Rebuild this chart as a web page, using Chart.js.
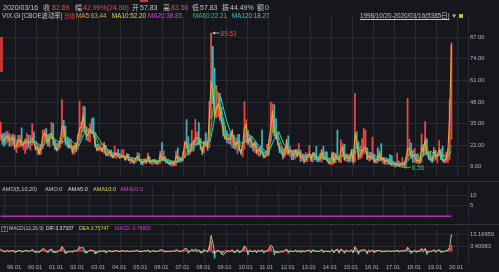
<!DOCTYPE html>
<html lang="zh">
<head>
<meta charset="UTF-8">
<title>VIX.GI CBOE波动率 日线</title>
<script src="https://cdn.jsdelivr.net/npm/chart.js"></script>
<style>
  html, body { margin: 0; padding: 0; background: #16171c; }
  body {
    width: 499px; height: 272px; position: relative; overflow: hidden;
    font-family: "Liberation Sans", "Noto Sans CJK SC", sans-serif; color: #c4c4c4;
  }
  canvas { position: absolute; left: 0; }
  .t { position: absolute; white-space: nowrap; }
  .r1 { top: 3px; font-size: 7px; line-height: 9px; }
  .r2 { top: 12px; font-size: 6.3px; line-height: 8px; }
  .lb { top: 185px; font-size: 5.6px; line-height: 8px; }
  .lm { top: 224px; font-size: 5px; line-height: 8px; }
  .red { color: #f04848; }
  .sep { position: absolute; left: 0; width: 499px; height: 1px; background: #34363d; }
</style>
</head>
<body>
  <canvas id="mainChart" width="499" height="171" style="top:10px"></canvas>
  <canvas id="amoChart" width="499" height="43" style="top:181px"></canvas>
  <canvas id="macdChart" width="499" height="48" style="top:224px"></canvas>

  <div class="sep" style="top:181px"></div>
  <div class="sep" style="top:224px"></div>
  <div style="position:absolute;left:140px;top:0;width:8px;height:2px;background:#c83a3a"></div>
  <div style="position:absolute;left:0;top:37px;width:3px;height:35px;background:#c03838"></div>

  <!-- header row 1 -->
  <span class="t r1" style="left:3px">2020/03/16</span>
  <span class="t r1" style="left:43px">收</span>
  <span class="t r1 red" style="left:52px">82.69</span>
  <span class="t r1" style="left:75px">幅</span>
  <span class="t r1 red" style="left:83px">42.99%(24.86)</span>
  <span class="t r1" style="left:132px">开</span>
  <span class="t r1" style="left:140px">57.83</span>
  <span class="t r1" style="left:163px">高</span>
  <span class="t r1 red" style="left:171px">83.56</span>
  <span class="t r1" style="left:192px">低</span>
  <span class="t r1" style="left:200px">57.83</span>
  <span class="t r1" style="left:222px">振</span>
  <span class="t r1" style="left:230px">44.49%</span>
  <span class="t r1" style="left:257px">额</span>
  <span class="t r1" style="left:265px">0</span>

  <!-- header row 2 -->
  <span class="t r2" style="left:2px">VIX.GI</span>
  <span class="t r2" style="left:22px">[CBOE波动率]</span>
  <span class="t r2 red" style="left:64px;font-size:5.4px">日线</span>
  <span class="t r2" style="left:76px;color:#eca040">MA5:63.44</span>
  <span class="t r2" style="left:112px;color:#e2dc48">MA10:52.20</span>
  <span class="t r2" style="left:148px;color:#d83cd8">MA20:38.85</span>
  <span class="t r2" style="left:193px;color:#3cc24a">MA60:22.21</span>
  <span class="t r2" style="left:232px;color:#3cc8d2">MA120:18.27</span>
  <span class="t r2" style="left:360px;text-decoration:underline">1998/10/20-2020/03/16(5385日)</span>
  <span class="t r2" style="left:451px;color:#bbbbbb">▼</span>
  <span style="position:absolute;left:459px;top:14px;width:4px;height:4px;background:#e0b020"></span>

  <!-- AMO label -->
  <span class="t lb" style="left:2px">AMO(5,10,20)</span>
  <span class="t lb" style="left:45px">AMO:0</span>
  <span class="t lb" style="left:68px;color:#dddddd">AMA5:0</span>
  <span class="t lb" style="left:93px;color:#e2dc48">AMA10:0</span>
  <span class="t lb" style="left:120px;color:#d83cd8">AMA20:0</span>

  <!-- MACD label -->
  <span class="t lm" style="left:1px;top:226px;border:1px solid #666;line-height:4px;padding:0 1px">?</span>
  <span class="t lm" style="left:9px">MACD(12,26,9)</span>
  <span class="t lm" style="left:46px;color:#e6e6e6">DIF:3.37337</span>
  <span class="t lm" style="left:79px;color:#e2dc48">DEA:3.75747</span>
  <span class="t lm" style="left:115px;color:#d83cd8">MACD:-0.76820</span>

<script>
// monthly VIX values, 1998/10 .. 2020/03
const high = [
  36, 29, 29,
  30, 30.5, 29, 28, 29, 28, 24, 28, 28, 32.5, 24, 26,
  29, 28, 28, 35, 30, 24.5, 22, 21, 22.5, 31, 31.5, 32,
  28.5, 29, 36, 35, 25, 23, 24, 26, 49.5, 37, 33.5, 26,
  25.5, 25.5, 21.5, 22, 23.5, 28.5, 48.5, 36, 45.5, 45.1, 33, 32,
  35, 38, 38.5, 29.5, 22.5, 22, 23, 20.5, 23.5, 22, 19.5, 18.5,
  19, 17, 21.5, 17.5, 19.5, 17, 19, 19.5, 15.5, 17, 16.5, 14,
  14.5, 12.5, 14.5, 17.5, 17, 13, 12.5, 14, 13.5, 17.2, 15, 12.5,
  13.5, 13.5, 12.5, 12.5, 18.5, 23.8, 18.5, 15, 13.5, 12.5, 11.8, 12.5,
  12.5, 18.5, 20.5, 15, 14, 18, 24.5, 37.5, 27, 23, 31.1, 25,
  37.6, 30, 35.6, 26, 21, 24.5, 29.5, 24.5, 48.4, 89.53, 81.5, 68.5,
  58, 53.5, 53.3, 45, 38, 33.5, 30.5, 28.5, 29, 31, 28, 24.5,
  28.2, 28.5, 19.5, 23, 48.2, 37.5, 31, 28.5, 27.5, 23, 24, 23,
  20.5, 21.5, 31.3, 17.5, 18.5, 22.5, 25.5, 48, 46.9, 46.4, 38, 30,
  23.5, 21, 20, 20.5, 25.5, 27.7, 21.5, 19, 19, 19.5, 19.5, 23.2,
  19, 16.5, 16, 17.5, 16.5, 21.9, 16.5, 17.5, 17.5, 21.3, 14.5, 17,
  19.4, 21.5, 18, 18, 14, 12.5, 17.5, 17.5, 17, 31.1, 14.5, 25.3,
  23, 22.5, 17, 15.5, 15.5, 19.5, 19.5, 53.3, 30, 24, 21.5, 26,
  32.1, 30.9, 20.5, 17, 17.5, 26.7, 16.5, 14, 20.5, 18.5, 23, 14.5,
  14.2, 13, 13.6, 16.3, 15.7, 12.1, 11.5, 17.3, 12.5, 11.5, 14.5, 11.3,
  14.6, 50.3, 25.7, 23.5, 18.9, 20.2, 16.5, 16.9, 14, 28.8, 22.5, 36.2,
  25.9, 17.9, 17.9, 15.5, 20.7, 18.9, 16.9, 24.8, 19.5, 21.5, 13.6, 17.9,
  19.99, 49.5, 83.56
];
const low = [
  25, 22.5, 21.5,
  22.6, 23.5, 21.5, 21.5, 22, 19.5, 17.5, 20.5, 21, 21.5, 19.5, 17,
  19.5, 20.5, 19, 22, 23.5, 19, 16.5, 16.5, 16.5, 20, 24, 24,
  21.5, 21, 26, 22, 19.5, 18.5, 19, 20.5, 23, 27, 22.5, 21,
  20, 20.5, 17.5, 16.5, 17.9, 19.5, 25, 27, 30, 30, 25, 24.5,
  24, 29, 27, 21.5, 18.5, 19, 18.5, 18, 17, 16, 15.5, 15.5,
  15, 14.5, 14.5, 14, 15, 14, 14.5, 14.5, 13, 13.5, 12.5, 11,
  11.5, 10.7, 11.5, 12.5, 12.5, 10.5, 10.2, 11, 11, 12, 11, 10.5,
  10.5, 11, 10.5, 10.5, 11, 12.5, 13, 11.6, 11, 10.5, 9.9, 9.4,
  9.9, 9.8, 11.5, 12, 12, 12.5, 14.5, 20, 16, 16.5, 18, 18.5,
  22, 22, 22.5, 19.5, 16.3, 17.5, 21.5, 18.8, 20.5, 38, 47, 39.5,
  38.5, 39, 37, 35, 27.5, 25.5, 23.5, 23, 22.5, 20.5, 20, 19.5,
  16.9, 18.5, 16.5, 15.2, 19.5, 23.5, 22.5, 21, 20.5, 18.5, 17.5, 16.8,
  15.5, 15.5, 17, 14.3, 14.7, 15.5, 16, 24, 29.5, 27.5, 26, 22.5,
  17.5, 16.8, 13.7, 15, 16.5, 16.5, 15.3, 13.3, 13.3, 13.9, 15, 15.5,
  12.3, 12.5, 11.3, 12, 12.3, 14.5, 12.3, 11.8, 13.3, 12.5, 11.9, 12.3,
  11.8, 13.5, 13.4, 12.5, 11, 10.3, 10.3, 11.2, 11.5, 13.5, 12, 11.5,
  15.5, 13.5, 12.5, 12.1, 11.8, 12.5, 11.8, 11.9, 20, 13.5, 13.8, 14.5,
  17.5, 19.5, 13.5, 12.5, 13, 13.5, 11.6, 11, 11.8, 12.5, 12.5, 11,
  10.6, 10.6, 10.6, 10.4, 9.6, 9.4, 8.84, 9.3, 9.1, 8.9, 8.56, 8.9,
  9.2, 13.4, 15.5, 14.3, 11.7, 11.6, 11.3, 10.9, 11, 11.6, 15.5, 16.5,
  16.5, 13.5, 12.5, 11.5, 12.5, 13.5, 11.7, 15.5, 13.3, 12.3, 11.4, 11.6,
  11.7, 13.4, 25.5
];
const close = [
  28.1, 26.0, 24.4,
  26.2, 27.9, 24.6, 25.4, 26.9, 21.1, 21.5, 24.5, 25.4, 22.0, 22.4, 24.6,
  24.9, 23.4, 24.1, 26.2, 23.6, 19.5, 20.7, 17.0, 20.6, 27.0, 29.4, 26.9,
  23.5, 28.0, 29.1, 24.5, 21.5, 19.1, 20.6, 24.9, 33.4, 33.2, 23.9, 23.8,
  21.1, 21.6, 17.4, 21.9, 19.9, 25.7, 32.0, 33.0, 39.7, 31.1, 27.5, 28.6,
  31.2, 29.6, 29.2, 21.2, 19.5, 19.5, 20.1, 18.6, 22.7, 16.1, 16.3, 18.3,
  16.6, 14.6, 16.7, 17.2, 15.5, 14.3, 15.3, 15.3, 13.3, 16.3, 13.2, 13.3,
  12.8, 12.1, 14.0, 15.3, 13.3, 12.0, 11.6, 12.6, 11.9, 15.3, 12.1, 12.1,
  12.9, 12.3, 11.4, 11.6, 16.4, 13.1, 14.9, 12.3, 11.9, 11.1, 10.9, 11.6,
  10.4, 15.4, 14.6, 14.2, 13.1, 16.2, 23.5, 23.4, 18.0, 18.5, 22.9, 22.5,
  26.2, 26.5, 25.6, 20.8, 17.8, 23.9, 22.9, 20.7, 39.4, 59.9, 55.3, 40.0,
  44.8, 46.4, 44.1, 36.5, 28.9, 26.4, 25.9, 26.0, 25.6, 30.7, 24.5, 21.7,
  24.6, 19.5, 17.6, 22.1, 32.1, 34.5, 23.5, 26.1, 23.7, 21.2, 23.5, 17.8,
  19.5, 18.4, 17.7, 14.8, 15.5, 16.5, 25.3, 31.6, 43.0, 30.0, 27.8, 23.4,
  19.4, 18.4, 15.5, 17.2, 24.1, 17.1, 18.9, 17.5, 15.7, 18.6, 16.0, 18.0,
  14.3, 15.5, 12.7, 13.5, 16.3, 16.9, 13.5, 17.0, 16.6, 13.8, 13.7, 13.7,
  18.4, 14.0, 13.9, 13.4, 11.4, 11.6, 17.0, 12.0, 16.3, 14.0, 13.3, 19.2,
  21.0, 13.3, 15.3, 14.6, 13.8, 18.2, 12.1, 28.4, 24.5, 15.1, 16.1, 18.2,
  20.2, 20.6, 14.0, 15.7, 14.2, 15.6, 11.9, 13.4, 13.3, 17.1, 13.3, 14.0,
  12.0, 12.9, 12.4, 10.8, 10.4, 11.2, 10.3, 10.6, 9.5, 10.2, 11.3, 11.0,
  13.5, 19.9, 20.0, 15.9, 15.4, 16.1, 12.8, 12.9, 12.1, 21.2, 18.1, 25.4,
  16.6, 14.8, 13.7, 13.1, 18.7, 15.1, 16.1, 19.0, 16.2, 13.2, 12.6, 13.8,
  18.8, 40.1, 82.69
];
// MA60 / MA120 read at each quarter end (last one = 2020/03/16)
const ma60 = [
  26.2,
  26.2, 24.5, 23.8, 23.0,  24.1, 23.1, 19.4, 27.8,  26.9, 21.7, 26.3, 27.0,
  20.0, 22.5, 34.9, 29.1,  30.0, 20.1, 20.5, 16.9,  16.0, 15.7, 14.6, 14.3,
  13.0, 13.5, 12.0, 13.2,  12.2, 13.7, 13.0, 11.2,  13.5, 14.5, 21.6, 21.3,
  26.1, 20.8, 27.7, 58.0,  45.1, 30.6, 25.8, 25.6,  20.6, 29.6, 24.4, 20.8,
  18.5, 15.6, 33.3, 27.1,  17.8, 19.5, 17.4, 17.5,  14.2, 15.6, 15.7, 13.7,
  15.4, 12.1, 15.1, 15.5,  16.5, 15.5, 21.7, 16.5,  18.3, 15.2, 12.9, 14.8,
  12.4, 10.8, 10.1, 10.8,  17.8, 15.8, 12.6, 21.6,  15.0, 15.6, 17.1, 13.2,
  22.21
];
const ma120 = [
  26.2,
  26.2, 25.4, 24.2, 23.4,  23.6, 23.6, 21.3, 23.6,  27.4, 24.3, 24.0, 26.7,
  23.5, 21.3, 28.7, 32.0,  29.6, 25.1, 20.3, 18.7,  16.5, 15.9, 15.2, 14.5,
  13.7, 13.3, 12.8, 12.6,  12.7, 13.0, 13.4, 12.1,  12.4, 14.0, 18.1, 21.5,
  23.7, 23.5, 24.3, 41.0,  51.0, 37.9, 28.2, 25.7,  23.1, 25.1, 27.0, 22.6,
  19.7, 17.1, 24.5, 30.2,  22.5, 18.7, 18.5, 17.5,  15.9, 14.9, 15.7, 14.7,
  14.6, 13.8, 13.6, 15.3,  16.0, 16.0, 18.6, 19.1,  17.4, 16.8, 14.1, 13.9,
  13.6, 11.6, 10.5, 10.5,  14.3, 16.8, 14.2, 17.1,  18.3, 15.3, 16.4, 15.2,
  18.27
];
// MACD panel, monthly
const macdDif = [
  1.5, 0.5, -0.3,
  -0.2, 0.5, -0.3, 0.1, 0.6, -0.8, -0.6, 0.3, 0.5, -0.4, -0.3, 0.4,
  0.4, -0.2, 0.1, 1.2, 0.2, -1.0, -0.5, -1.0, 0.3, 1.8, 1.5, 0.3,
  -0.8, 1.0, 1.5, -0.5, -1.0, -0.8, -0.2, 0.8, 3.5, 1.8, -1.5, -0.8,
  -0.8, -0.3, -1.0, 0.4, -0.2, 1.2, 3.5, 2.0, 3.0, 0.5, -1.2, -0.3,
  0.8, 0.5, 0.5, -2.0, -1.2, -0.5, 0.0, -0.3, 0.6, -1.2, -0.5, 0.2,
  -0.2, -0.5, 0.4, 0.3, -0.2, -0.4, 0.2, 0.1, -0.5, 0.4, -0.4, -0.1,
  -0.1, -0.2, 0.4, 0.6, -0.3, -0.4, -0.2, 0.2, -0.1, 0.8, -0.5, -0.2,
  0.2, -0.1, -0.3, -0.1, 1.0, 0.8, 0.3, -0.5, -0.3, -0.2, -0.2, 0.1,
  -0.3, 0.8, 0.6, -0.2, -0.3, 0.5, 1.8, 2.0, -0.5, -0.2, 1.2, 0.3,
  1.5, 0.5, 0.8, -1.0, -1.2, 0.8, 0.3, -0.5, 3.5, 12.0, 6.5, -2.0,
  -0.5, 0.2, -0.3, -2.5, -3.0, -1.2, -0.5, -0.2, -0.3, 0.8, -0.8, -0.9,
  0.8, -0.6, -0.8, 0.8, 4.0, 2.5, -1.5, 0.3, -0.3, -0.5, 0.3, -1.0,
  0.2, -0.2, 0.8, -0.9, -0.3, 0.1, 1.8, 4.5, 3.5, -0.5, -0.8, -1.2,
  -1.0, -0.5, -0.8, 0.3, 1.5, -0.5, 0.0, -0.3, -0.4, 0.5, -0.3, 0.4,
  -0.8, 0.2, -0.5, 0.1, 0.4, 0.8, -0.6, 0.6, 0.2, -0.2, -0.3, 0.0,
  0.9, -0.4, -0.1, -0.2, -0.5, -0.3, 0.9, -0.6, 0.6, 1.5, -0.8, 1.2,
  0.8, -1.0, 0.2, -0.1, -0.2, 0.6, -0.8, 3.0, 1.5, -1.5, 0.1, 0.5,
  1.2, 0.8, -1.5, -0.1, -0.2, 0.6, -0.9, -0.1, 0.3, 0.6, -0.3, -0.2,
  -0.4, 0.1, 0.0, -0.2, -0.1, 0.1, -0.2, 0.5, -0.3, 0.0, 0.2, 0.0,
  0.5, 3.0, 1.2, -1.0, -0.5, 0.3, -0.6, 0.0, -0.2, 1.8, 0.6, 2.0,
  -1.2, -0.8, -0.4, -0.2, 0.9, -0.3, 0.2, 1.0, -0.3, -0.6, -0.4, 0.2,
  0.8, 3.0, 13.0
];
const macdBar = [
  1.0, 0.2, -0.6,
  -0.3, 0.5, -0.5, 0.1, 0.5, -0.9, -0.4, 0.4, 0.4, -0.6, -0.2, 0.4,
  0.3, -0.3, 0.0, 1.0, -0.2, -1.1, -0.2, -0.6, 0.6, 1.5, 0.6, -0.5,
  -1.0, 0.9, 0.9, -1.0, -0.8, -0.3, 0.2, 0.8, 2.6, 0.3, -2.0, -0.5,
  -0.3, 0.1, -0.6, 0.7, -0.1, 1.0, 2.4, 0.4, 0.9, -1.3, -1.5, 0.2,
  0.8, 0.2, 0.1, -2.0, -0.6, 0.1, 0.4, -0.2, 0.6, -1.2, 0.1, 0.4,
  -0.2, -0.4, 0.5, 0.2, -0.3, -0.3, 0.3, 0.1, -0.5, 0.5, -0.5, 0.1,
  0.0, -0.1, 0.4, 0.4, -0.5, -0.3, 0.0, 0.3, -0.2, 0.7, -0.8, 0.0,
  0.3, -0.1, -0.2, 0.0, 0.9, 0.2, -0.2, -0.6, -0.1, 0.0, 0.0, 0.2,
  -0.3, 0.9, 0.2, -0.5, -0.2, 0.6, 1.2, 0.6, -1.6, -0.3, 1.1, -0.4,
  0.9, -0.6, 0.3, -1.4, -0.6, 1.2, 0.0, -0.6, 3.2, 7.5, -1.5, -5.5,
  0.5, 0.7, -0.3, -1.8, -1.2, 0.6, 0.6, 0.3, -0.1, 1.0, -1.1, -0.4,
  1.2, -1.0, -0.4, 1.2, 3.2, -0.2, -2.8, 1.0, -0.4, -0.3, 0.6, -1.1,
  0.8, -0.3, 0.9, -1.4, 0.3, 0.3, 1.6, 2.7, 0.2, -2.8, -0.9, -0.6,
  0.1, 0.4, -0.4, 0.8, 1.2, -1.6, 0.3, -0.3, -0.3, 0.8, -0.6, 0.6,
  -1.0, 0.6, -0.6, 0.4, 0.4, 0.5, -1.2, 1.0, -0.2, -0.4, -0.2, 0.2,
  0.9, -1.0, 0.1, -0.1, -0.4, 0.0, 1.1, -1.3, 1.0, 1.0, -1.6, 1.6,
  0.1, -1.6, 0.9, -0.1, -0.1, 0.8, -1.3, 3.2, -0.4, -2.4, 1.0, 0.5,
  0.8, 0.0, -2.2, 1.0, -0.1, 0.8, -1.3, 0.5, 0.4, 0.4, -0.7, -0.1,
  -0.3, 0.4, 0.0, -0.2, 0.0, 0.2, -0.3, 0.7, -0.7, 0.2, 0.3, -0.1,
  0.6, 2.4, -0.4, -1.8, -0.2, 0.7, -0.8, 0.4, -0.2, 1.8, -0.6, 1.3,
  -2.5, -0.4, 0.1, 0.1, 1.0, -0.8, 0.5, 0.8, -1.0, -0.5, -0.1, 0.5,
  0.6, 2.2, 4.5
];
const amoLevel = [0, 0];   // AMO: index has no amount
const yearTicks = ['99.01', '00.01', '01.01', '02.01', '03.01', '04.01', '05.01', '06.01',
  '07.01', '08.01', '09.01', '10.01', '11.01', '12.01', '13.01', '14.01', '15.01', '16.01',
  '17.01', '18.01', '19.01', '20.01'];
const priceTicks = [9, 22, 35, 48, 61, 74, 87];
const amoTicks = [5, 10];
const macdTicks = [3.40983, 13.1695];

const GRID = '#2a2b31';
const TXT = '#b4b4b4';
const FONT = '"Liberation Sans", "Noto Sans CJK SC", sans-serif';
const UP = '#ee4646', DOWN = '#3ab4bc';
const X_MIN = 0.15, X_MAX = 266.94;   // month index, 0 = 1998/10
const lastX = close.length - 0.5;

const monthPts = arr => arr.map((v, i) => ({ x: i + 0.5, y: v }));
const quarterPts = arr => arr.map((v, q) => ({ x: Math.min(3 + 3 * q, lastX), y: v }));

function xAxis(labels) {
  return {
    type: 'linear', min: X_MIN, max: X_MAX, offset: false,
    afterBuildTicks: s => { s.ticks = yearTicks.map((t, k) => ({ value: 3 + 12 * k })); },
    afterFit: s => { s.height = labels ? 10 : 0; },
    grid: { color: GRID, drawTicks: false },
    border: { display: false },
    ticks: labels
      ? { color: TXT, font: { size: 5.6, family: FONT }, padding: 2, align: 'start', labelOffset: 2,
          maxRotation: 0, autoSkip: false, callback: (v, i) => yearTicks[i] }
      : { display: false }
  };
}
function yAxis(min, max, ticks, fmt) {
  return {
    position: 'right', min, max,
    afterBuildTicks: s => { s.ticks = ticks.map(v => ({ value: v })); },
    afterFit: s => { s.width = 31; },
    grid: { color: GRID, drawTicks: false },
    border: { display: true, color: GRID },
    ticks: { color: TXT, font: { size: 5.8, family: FONT }, padding: 2, callback: fmt }
  };
}
const base = {
  responsive: false, animation: false,
  plugins: { legend: { display: false }, tooltip: { enabled: false } }
};

// highest / lowest marks with small arrows
const extremeMarks = {
  id: 'extremeMarks',
  afterDatasetsDraw(chart) {
    const { ctx, scales: { x, y } } = chart;
    let hi = 0, lo = 0;
    high.forEach((v, i) => { if (v > high[hi]) hi = i; });
    low.forEach((v, i) => { if (v < low[lo]) lo = i; });
    const mark = (i, v, color, arrow) => {
      const px = x.getPixelForValue(i + 0.5) + 1.5, py = y.getPixelForValue(v);
      ctx.save();
      ctx.strokeStyle = arrow; ctx.fillStyle = arrow; ctx.lineWidth = 0.8;
      ctx.beginPath(); ctx.moveTo(px, py); ctx.lineTo(px + 7, py); ctx.stroke();
      ctx.beginPath(); ctx.moveTo(px, py); ctx.lineTo(px + 2.5, py - 1.5); ctx.lineTo(px + 2.5, py + 1.5); ctx.fill();
      ctx.fillStyle = color; ctx.font = '6.4px ' + FONT; ctx.textBaseline = 'middle';
      ctx.fillText(v.toFixed(2), px + 8, py + 1);
      ctx.restore();
    };
    mark(hi, high[hi], '#f04848', '#d0d0d0');
    mark(lo, low[lo], '#3cbf5a', '#3cbf5a');
  }
};

new Chart(document.getElementById('mainChart'), {
  type: 'bar',
  data: {
    datasets: [
      { type: 'line', data: monthPts(close), borderColor: '#eaa63a', borderWidth: 1.1,
        pointRadius: 0, order: 1 },
      { type: 'line', data: quarterPts(ma60), borderColor: '#3cc24a', borderWidth: 0.9,
        pointRadius: 0, order: 2 },
      { type: 'line', data: quarterPts(ma120), borderColor: '#3cc8d2', borderWidth: 1,
        pointRadius: 0, order: 3 },
      { data: high.map((h, i) => ({ x: i + 0.5, y: [low[i], h] })),
        backgroundColor: close.map((c, i) => (i === 0 || c >= close[i - 1]) ? UP : DOWN),
        barThickness: 1.1, grouped: false, order: 5 }
    ]
  },
  options: Object.assign({}, base, {
    layout: { padding: 0 },
    scales: { x: xAxis(false), y: yAxis(3.76, 100.1, priceTicks, v => v.toFixed(2)) }
  }),
  plugins: [extremeMarks]
});

new Chart(document.getElementById('amoChart'), {
  type: 'line',
  data: {
    datasets: [
      { data: [{ x: 0.5, y: amoLevel[0] }, { x: lastX, y: amoLevel[1] }],
        borderColor: '#b030b0', borderWidth: 1.5, pointRadius: 0 }
    ]
  },
  options: Object.assign({}, base, {
    layout: { padding: 0 },
    scales: { x: xAxis(false), y: yAxis(-1.07, 14.29, amoTicks, v => String(v)) }
  })
});

new Chart(document.getElementById('macdChart'), {
  type: 'bar',
  data: {
    datasets: [
      { type: 'line', data: monthPts(macdDif), borderColor: '#e8e4a8', borderWidth: 0.8,
        pointRadius: 0, order: 1 },
      { data: monthPts(macdBar),
        backgroundColor: macdBar.map(v => v >= 0 ? UP : DOWN),
        barThickness: 1.2, grouped: false, order: 2 }
    ]
  },
  options: Object.assign({}, base, {
    layout: { padding: { top: 2 } },
    scales: { x: xAxis(true), y: yAxis(-8.44, 16.66, macdTicks, v => v.toFixed(5)) }
  })
});
</script>
</body>
</html>
